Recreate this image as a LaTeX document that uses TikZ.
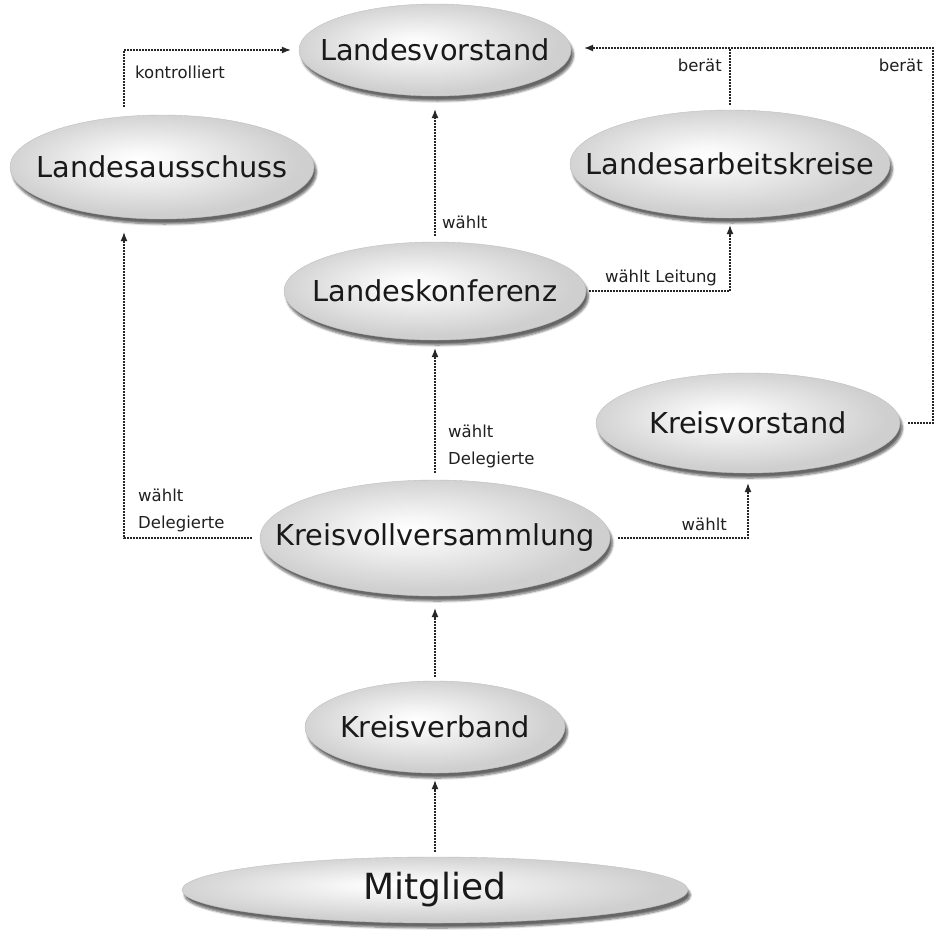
\documentclass[tikz,border=0pt]{standalone}
\usepackage{fontspec}
\setmainfont{DejaVu Sans}
\usetikzlibrary{shapes.geometric,arrows.meta,shadows.blur}
\pgfdeclareradialshading{ellshade}{\pgfpoint{-4bp}{4bp}}{color(0bp)=(white); color(5bp)=(gray!6); color(25bp)=(gray!38); color(50bp)=(gray!38)}
\newcommand{\mkc}[1]{\makebox[0pt][c]{#1}}
\tikzset{
  ell/.style={ellipse, draw=gray!50, line width=0.4pt, shading=ellshade,
    blur shadow={shadow xshift=2.5pt, shadow yshift=-5pt, shadow blur steps=6, shadow opacity=60},
    inner sep=0pt, text=black!90, font=\fontsize{28.8}{30}\selectfont},
  conn/.style={draw=black!85, line width=1.1pt, dash pattern=on 2pt off 1pt,
    -{Latex[length=9pt,width=7pt]}},
  connline/.style={draw=black!85, line width=1.1pt, dash pattern=on 2pt off 1pt},
  lbl/.style={font=\fontsize{16.5}{27}\selectfont, text=black!88, inner sep=0pt}
}
\begin{document}
\begin{tikzpicture}[x=1pt,y=-1pt]
\useasboundingbox (0,0) rectangle (936,929);
% nodes
\node[ell, minimum width=272pt, minimum height=92pt] (LV) at (435,50) {\mkc{Landesvorstand}};
\node[ell, minimum width=304pt, minimum height=104pt] (LA) at (162,167) {\mkc{Landesausschuss}};
\node[ell, minimum width=320pt, minimum height=108pt] (LAK) at (730,164) {\mkc{Landesarbeitskreise}};
\node[ell, minimum width=302pt, minimum height=98pt] (LK) at (435,291) {\mkc{Landeskonferenz}};
\node[ell, minimum width=304pt, minimum height=100pt] (KVS) at (748,423) {\mkc{Kreisvorstand}};
\node[ell, minimum width=350pt, minimum height=116pt] (KVV) at (435,538) {\mkc{Kreisvollversammlung}};
\node[ell, minimum width=260pt, minimum height=92pt] (KVB) at (435,727) {\mkc{Kreisverband}};
\node[ell, minimum width=506pt, minimum height=66pt, font=\fontsize{36}{38}\selectfont] (M) at (435,890) {\mkc{Mitglied}};
\coordinate (TR) at (933,48);
% connectors
\draw[conn] ([xshift=-38pt,yshift=8pt]LA.north) |- ([xshift=-8pt]LV.west);
\draw[conn] ([yshift=6pt]LK.north) -- ([yshift=-13pt]LV.south);
\draw[conn] ([xshift=8pt]KVS.east) -| (TR) -- ([xshift=13pt,yshift=2pt]LV.east);
\draw[connline] ([yshift=5pt]LAK.north) -- (LAK.north |- TR);
\draw[conn] ([xshift=3pt]LK.east) -| ([yshift=-7pt]LAK.south);
\draw[conn] ([yshift=7pt]KVV.north) -- ([yshift=-8pt]LK.south);
\draw[conn] ([xshift=-8pt]KVV.west) -| ([xshift=-38pt,yshift=-13pt]LA.south);
\draw[conn] ([xshift=8pt]KVV.east) -| ([yshift=-10pt]KVS.south);
\draw[conn] ([yshift=4pt]KVB.north) -- ([yshift=-12pt]KVV.south);
\draw[conn] ([yshift=5pt]M.north) -- ([yshift=-7pt]KVB.south);
% labels
\node[lbl, anchor=west] (t1) at (135,72) {kontrolliert};
\node[lbl, anchor=west] (t2) at (442,222) {wählt};
\node[lbl, anchor=east] (t3) at (722,65) {berät};
\node[lbl, anchor=east] (t4) at (923,65) {berät};
\node[lbl] (t5) at (661,278) {wählt Leitung};
\node[lbl, anchor=west, align=left] (t6) at (448,446) {wählt\\Delegierte};
\node[lbl, anchor=west, align=left] (t7) at (138,510) {wählt\\Delegierte};
\node[lbl, anchor=east] (t8) at (727,524) {wählt};
\end{tikzpicture}
\end{document}
